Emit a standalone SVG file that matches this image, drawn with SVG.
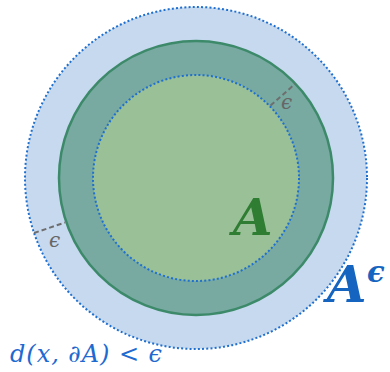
<svg xmlns="http://www.w3.org/2000/svg" width="390" height="372" viewBox="0 0 390 372">
<style>
.dot{fill:none;stroke:#1f6fcf;stroke-width:2;stroke-dasharray:2 2.2}
.dash{stroke:#6e6e6e;stroke-width:2;stroke-dasharray:5 3}
.serif{font-family:"DejaVu Serif","Liberation Serif",serif;font-style:italic}
.eps{font-size:20px;fill:#666}
.big{font-weight:bold}
</style>
<rect width="390" height="372" fill="#fff"/>
<g id="outer">
<circle cx="196" cy="178" r="171" fill="#c6d9ef"/>
<circle cx="196" cy="178" r="171" class="dot"/>
</g>
<g id="middle">
<circle cx="196" cy="178" r="137" fill="#78aaa2" stroke="#3d8a6a" stroke-width="2.5"/>
</g>
<g id="inner">
<circle cx="196" cy="178" r="103" fill="#9ac098"/>
<circle cx="196" cy="178" r="103" class="dot"/>
</g>
<g id="connectors">
<line x1="270.5" y1="105.5" x2="295" y2="84" class="dash"/>
<line x1="34" y1="233" x2="65" y2="222.5" class="dash"/>
</g>
<text x="281" y="109" class="serif eps">ϵ</text>
<text x="49" y="247" class="serif eps">ϵ</text>
<text x="233" y="235" class="serif big" font-size="51" fill="#2e7d32">A</text>
<text x="327" y="302" class="serif big" font-size="51" fill="#1565c0">A</text>
<text x="367" y="282" class="serif big" font-size="29" fill="#1565c0">ϵ</text>
<text x="10" y="362" class="serif" font-size="24" fill="#1e6ad0" textLength="152" lengthAdjust="spacing">d(x, ∂A) &lt; ϵ</text>
</svg>
